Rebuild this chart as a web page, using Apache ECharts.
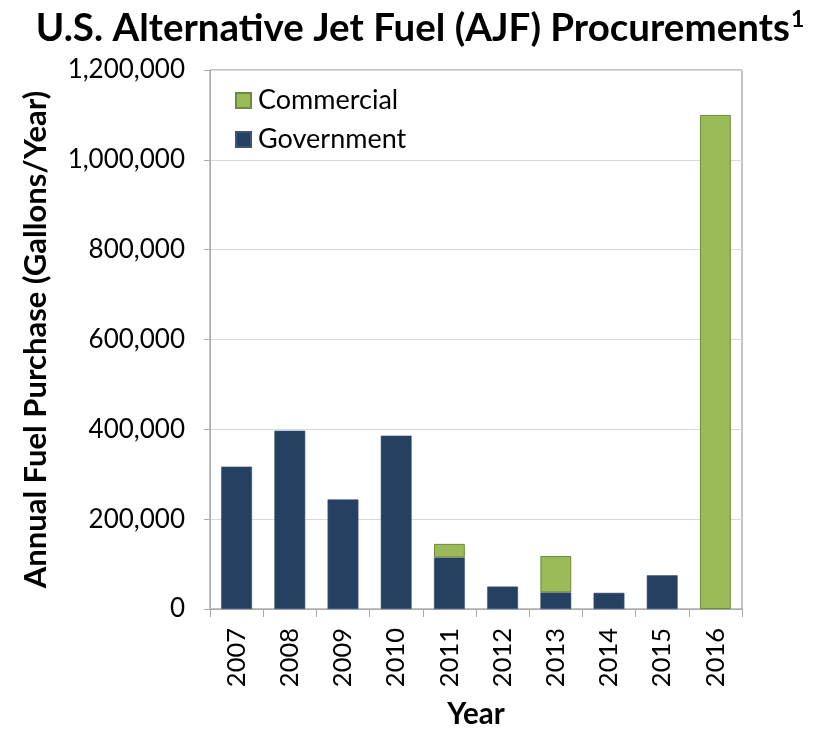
<!DOCTYPE html>
<html>
<head>
<meta charset="utf-8">
<script src="https://cdn.jsdelivr.net/npm/echarts@6/dist/echarts.min.js"></script>
<style>html,body{margin:0;padding:0;background:#fff;}#c{width:840px;height:734px;}</style>
</head>
<body>
<div id="c"></div>
<script>
var years = ['2007','2008','2009','2010','2011','2012','2013','2014','2015','2016'];
var government = [317000, 397000, 244000, 386000, 115000, 50000, 37000, 36000, 75000, null];
var commercial = [null, null, null, null, 30000, null, 81000, null, null, 1100000];
var yTicks = { min: 0, max: 1200000, interval: 200000 };

var FONT = 'Lato';
var chart = echarts.init(document.getElementById('c'));
chart.setOption({
  animation: false,
  backgroundColor: '#fff',
  textStyle: { fontFamily: FONT, color: '#000' },
  title: {
    text: '{a|U.S. Alternative Jet Fuel (AJF) Procurements}{s|1}',
    left: 'center',
    top: 3,
    textStyle: {
      rich: {
        a: { fontFamily: FONT, fontSize: 38.5, fontWeight: 'bold', color: '#000' },
        s: { fontFamily: FONT, fontSize: 23, fontWeight: 'bold', color: '#000', padding: [0, 0, 18, 1] }
      }
    }
  },
  legend: {
    data: ['Commercial', 'Government'],
    orient: 'vertical',
    left: 230,
    top: 82,
    icon: 'rect',
    itemWidth: 15,
    itemHeight: 15,
    itemGap: 12,
    textStyle: { fontFamily: FONT, fontSize: 27, color: '#000', padding: [0,0,0,2] }
  },
  grid: {
    left: 210, right: 98, top: 70, bottom: 121,
    show: true, borderColor: '#888', borderWidth: 1, backgroundColor: 'transparent'
  },
  xAxis: {
    type: 'category',
    data: years,
    name: 'Year',
    nameLocation: 'middle',
    nameGap: 90,
    nameTextStyle: { fontFamily: FONT, fontSize: 29.5, fontWeight: 'bold', color: '#000' },
    axisLine: { lineStyle: { color: '#aaa' } },
    axisTick: { show: true, length: 8, alignWithLabel: false, lineStyle: { color: '#aaa' } },
    axisLabel: { rotate: 90, fontSize: 25.5, color: '#000', margin: 19, fontFamily: FONT }
  },
  yAxis: {
    type: 'value',
    min: yTicks.min, max: yTicks.max, interval: yTicks.interval,
    name: 'Annual Fuel Purchase (Gallons/Year)',
    nameLocation: 'middle',
    nameGap: 159,
    nameTextStyle: { fontFamily: FONT, fontSize: 31, fontWeight: 'bold', color: '#000' },
    axisLine: { show: true, lineStyle: { color: '#aaa' } },
    axisTick: { show: true, length: 6, lineStyle: { color: '#aaa' } },
    splitLine: { lineStyle: { color: '#d9d9d9' } },
    axisLabel: {
      fontSize: 26, color: '#000', margin: 25, fontFamily: FONT,
      formatter: function (v) { return v.toLocaleString('en-US'); }
    }
  },
  series: [
    {
      name: 'Government', type: 'bar', stack: 'total', data: government,
      barWidth: '58%',
      itemStyle: { color: '#254061', borderColor: '#3d5473', borderWidth: 0.6 }
    },
    {
      name: 'Commercial', type: 'bar', stack: 'total', data: commercial,
      barWidth: '58%',
      itemStyle: { color: '#9BBB59', borderColor: '#6E8B3D', borderWidth: 1 }
    }
  ]
});
</script>
</body>
</html>
